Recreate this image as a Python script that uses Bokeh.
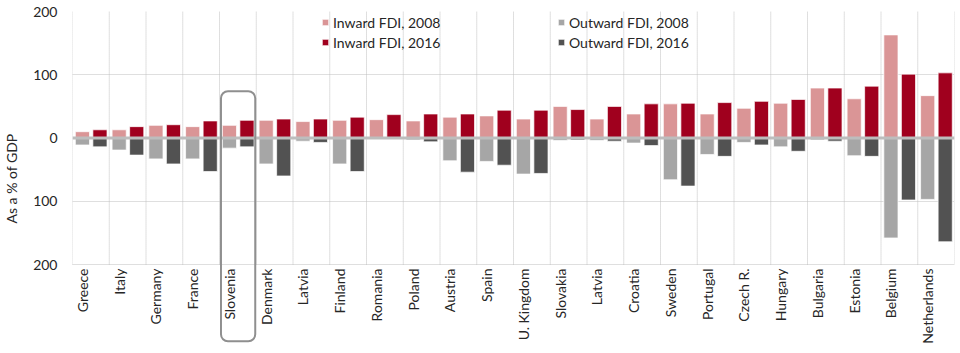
import math
from bokeh.plotting import figure
from bokeh.models import FixedTicker, Span, BoxAnnotation, Legend, LegendItem, Range1d, Label
from bokeh.core.properties import value
from bokeh.embed import file_html
from bokeh.resources import INLINE

countries = ["Greece", "Italy", "Germany", "France", "Slovenia", "Denmark", "Latvia",
             "Finland", "Romania", "Poland", "Austria", "Spain", "U. Kingdom", "Slovakia",
             "Latvia", "Croatia", "Sweden", "Portugal", "Czech R.", "Hungary", "Bulgaria",
             "Estonia", "Belgium", "Netherlands"]
inward_2008 = [10, 13, 20, 18, 20, 28, 26, 28, 29, 27, 33, 35, 30, 50, 30, 38, 54, 38, 47, 55, 79, 62, 163, 67]
inward_2016 = [13, 18, 21, 27, 28, 30, 30, 33, 37, 38, 38, 44, 44, 45, 50, 54, 55, 56, 58, 61, 79, 82, 101, 103]
outward_2008 = [11, 19, 33, 33, 16, 41, 5, 41, 1, 3, 36, 37, 57, 4, 4, 8, 66, 26, 7, 14, 3, 28, 158, 97]
outward_2016 = [14, 27, 41, 53, 14, 60, 7, 53, 0, 6, 54, 43, 56, 3, 5, 12, 76, 29, 11, 21, 5, 29, 98, 164]
y_ticks = [-200, -100, 0, 100, 200]
highlight = "Slovenia"

FONT = "Lato"
TXT = "#262626"
GRID = "#bfbfbf"
C_IN08 = "#da9596"
C_IN16 = "#a0001e"
C_OUT08 = "#a6a6a6"
C_OUT16 = "#525252"

n = len(countries)
OFF = 0.27
YMIN, YMAX = min(y_ticks), max(y_ticks)
x_in08 = [i for i in range(n)]
x_in16 = [i + 0.477 for i in range(n)]
neg08 = [-v for v in outward_2008]
neg16 = [-v for v in outward_2016]

# the frame extends below the value axis so that the country labels and the
# highlight frame can be drawn inside it
p = figure(width=960, height=353, output_backend="svg", toolbar_location=None,
           x_range=Range1d(-OFF, n - OFF), y_range=Range1d(-328, YMAX),
           min_border_left=70, min_border_right=6, min_border_top=11, min_border_bottom=8)
p.outline_line_color = None
p.xaxis.visible = False
p.xgrid.visible = False

# grid
p.ygrid.ticker = FixedTicker(ticks=[t for t in y_ticks if t != 0])
p.ygrid.grid_line_color = GRID
p.ygrid.grid_line_dash = "1 1"
bounds = [i - OFF for i in range(n + 1)]
p.segment(x0=bounds, y0=[YMIN] * len(bounds), x1=bounds, y1=[YMAX] * len(bounds),
          line_color=GRID, line_dash="1 1", line_width=1)

# legend background box
p.add_layout(BoxAnnotation(left=5.7, right=17.8, bottom=132, top=199.4, fill_color="white",
                           fill_alpha=1, line_color=None, level="underlay"))

W = 0.385
r1 = p.vbar(x=x_in08, top=inward_2008, bottom=0, width=W, fill_color=C_IN08, line_color="white", line_alpha=0.7)
r2 = p.vbar(x=x_in16, top=inward_2016, bottom=0, width=W, fill_color=C_IN16, line_color="white", line_alpha=0.7)
r3 = p.vbar(x=x_in08, top=0, bottom=neg08, width=W, fill_color=C_OUT08, line_color="white", line_alpha=0.7)
r4 = p.vbar(x=x_in16, top=0, bottom=neg16, width=W, fill_color=C_OUT16, line_color="white", line_alpha=0.7)

p.add_layout(Span(location=0, dimension="width", line_color="#bdbdbd", line_width=3, level="overlay"))

# country labels
p.text(x=x_in08, y=[YMIN] * n, text=countries, angle=math.pi / 2, y_offset=4,
       text_align="right", text_baseline="middle", text_font=value(FONT),
       text_font_size="14px", text_color=TXT)

# y axis
p.yaxis.ticker = FixedTicker(ticks=y_ticks)
p.yaxis.major_label_overrides = {t: str(abs(t)) for t in y_ticks}
p.yaxis.axis_line_color = None
p.yaxis.major_tick_line_color = None
p.yaxis.minor_tick_line_color = None
p.yaxis.major_label_standoff = 9
p.yaxis.major_label_text_font = FONT
p.yaxis.major_label_text_font_size = "14px"
p.yaxis.major_label_text_color = TXT
p.yaxis.axis_label = "As a % of GDP"
p.yaxis.axis_label_text_font = FONT
p.yaxis.axis_label_text_font_style = "normal"
p.yaxis.axis_label_text_font_size = "14px"
p.yaxis.axis_label_text_color = TXT
p.yaxis.axis_label_standoff = 10

# highlight box (rounded frame around the highlighted country, reaching below its label)
hi = countries.index(highlight)
p.add_layout(Label(x=hi - 0.23, y=74, x_units="data", y_units="data", text=" ",
                   text_font_size="1px", anchor="top_left",
                   padding=(0, 34, 249, 0),
                   border_line_color="#8f8f8f", border_line_width=2, border_line_alpha=1,
                   border_radius=7, background_fill_color=None, level="overlay"))

def mk_legend(items, loc):
    return Legend(items=items, location=loc, orientation="vertical",
                  background_fill_alpha=0, border_line_color=None,
                  glyph_width=8, glyph_height=8, label_standoff=4, padding=0, margin=0,
                  spacing=0, label_height=20, label_text_font=FONT,
                  label_text_font_size="14px", label_text_color=TXT)

p.add_layout(mk_legend([LegendItem(label="Inward FDI, 2008", renderers=[r1]),
                        LegendItem(label="Inward FDI, 2016", renderers=[r2])], (249, 293)))
p.add_layout(mk_legend([LegendItem(label="Outward FDI, 2008", renderers=[r3]),
                        LegendItem(label="Outward FDI, 2016", renderers=[r4])], (485, 293)))

open("out.html", "w").write(file_html(p, INLINE))
